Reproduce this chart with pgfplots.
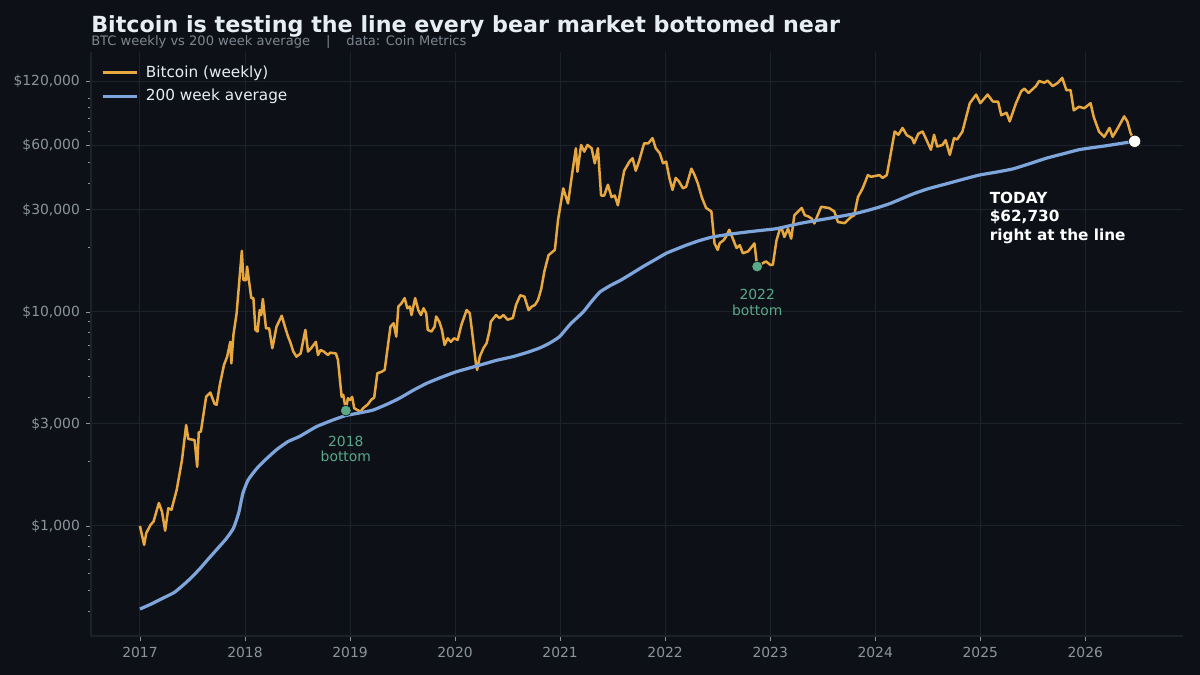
\documentclass[border=0pt]{standalone}
\usepackage{pgfplots}
\pgfplotsset{compat=1.18}
\usepackage{fontspec}
\setmainfont{DejaVu Sans}
\definecolor{bg}{HTML}{0D1117}
\definecolor{titlec}{HTML}{E6EDF3}
\definecolor{subc}{HTML}{7D8590}
\definecolor{tickc}{HTML}{8B949E}
\definecolor{gridc}{HTML}{1C222B}
\definecolor{btc}{HTML}{E8A840}
\definecolor{ma}{HTML}{7FA6DC}
\definecolor{grn}{HTML}{5AA889}
\begin{document}
\begin{tikzpicture}
\fill[bg] (0,0) rectangle (864pt,486pt);
\node[anchor=base west, inner sep=0, text=titlec, font=\fontsize{16}{19}\selectfont\bfseries] at (65.52pt,462.7pt) {Bitcoin is testing the line every bear market bottomed near};
\node[anchor=base west, inner sep=0, text=subc, font=\fontsize{9.4}{11}\selectfont] at (65.52pt,453.3pt) {BTC weekly vs 200 week average\hspace{11.5pt}|\hspace{11.5pt}data: Coin Metrics};
\begin{axis}[
  at={(65.52pt,28.08pt)}, anchor=south west,
  scale only axis, width=786.24pt, height=420.48pt,
  xmin=2016.534, xmax=2026.93,
  ymode=log, ymin=306, ymax=164000,
  axis x line*=bottom, axis y line*=left,
  axis line style={draw=gridc, line width=0.8pt, -},
  xtick={2017,2018,2019,2020,2021,2022,2023,2024,2025,2026},
  xticklabels={2017,2018,2019,2020,2021,2022,2023,2024,2025,2026},
  ytick={1000,3000,10000,30000,60000,120000},
  yticklabels={{\$1,000},{\$3,000},{\$10,000},{\$30,000},{\$60,000},{\$120,000}},
  minor ytick={400,500,600,700,800,900,2000,4000,5000,6000,7000,8000,9000,20000,40000,50000,70000,80000,90000,100000},
  grid=major,
  major grid style={draw=gridc, line width=0.7pt},
  tick align=outside,
  major tick length=3.5pt, minor tick length=2pt,
  every tick/.style={draw=tickc, line width=0.6pt},
  every minor tick/.style={draw=tickc, line width=0.5pt},
  /pgf/number format/assume math mode=true,
  ticklabel style={font=\fontsize{10}{12}\selectfont, text=tickc},
  xticklabel style={yshift=-1pt},
  yticklabel style={xshift=-1pt},
  legend cell align=left,
  legend style={at={(axis description cs:0,1)}, anchor=north west, xshift=4pt, yshift=-5.8pt,
    draw=none, fill=none, text=titlec, font=\fontsize{11}{13}\selectfont, row sep=3pt,
    nodes={inner xsep=5.5pt}},
  legend image code/.code={\draw[#1] (0pt,0pt) -- (24.5pt,0pt);},
]
\addplot[btc, line width=1.8pt, line join=round, mark=none] coordinates {
(2017.00,1000) (2017.04,815) (2017.06,925) (2017.10,1010) (2017.13,1050)
(2017.18,1280) (2017.21,1165) (2017.24,950) (2017.27,1210) (2017.30,1190)
(2017.35,1475) (2017.40,2030) (2017.44,2960) (2017.46,2550) (2017.52,2520)
(2017.545,1890) (2017.56,2740) (2017.58,2760) (2017.63,4010) (2017.67,4200)
(2017.71,3720) (2017.73,3680) (2017.76,4560) (2017.80,5650) (2017.83,6180)
(2017.86,7250) (2017.87,5750) (2017.89,7820) (2017.92,9830) (2017.97,19300)
(2017.985,14100) (2018.01,14100) (2018.02,16300) (2018.06,11600) (2018.08,11600)
(2018.10,8240) (2018.12,8100) (2018.14,10200) (2018.155,9670) (2018.17,11500)
(2018.20,8390) (2018.23,8390) (2018.26,6770) (2018.27,7140) (2018.30,8540)
(2018.35,9600) (2018.38,8540) (2018.41,7670) (2018.43,7250) (2018.46,6530)
(2018.49,6180) (2018.53,6400) (2018.54,6770) (2018.575,8240) (2018.60,6530)
(2018.63,6770) (2018.675,7250) (2018.695,6290) (2018.72,6640) (2018.75,6530)
(2018.79,6290) (2018.81,6450) (2018.865,6400) (2018.885,5970) (2018.92,4010)
(2018.935,4100) (2018.96,3500) (2018.98,3950) (2019.00,3880) (2019.02,4010)
(2019.04,3550) (2019.07,3480) (2019.10,3420) (2019.125,3550) (2019.17,3700)
(2019.20,3880) (2019.23,3980) (2019.26,5170) (2019.30,5250) (2019.33,5360)
(2019.355,6640) (2019.385,8540) (2019.415,8860) (2019.44,7670) (2019.46,10600)
(2019.49,10980) (2019.52,11600) (2019.545,10400) (2019.57,10600) (2019.585,9670)
(2019.62,11600) (2019.65,10200) (2019.675,9670) (2019.70,10400) (2019.725,9860)
(2019.74,8240) (2019.775,8100) (2019.805,8540) (2019.82,9520) (2019.85,9000)
(2019.875,8240) (2019.90,7010) (2019.93,7530) (2019.96,7250) (2019.99,7530)
(2020.025,7400) (2020.06,8700) (2020.11,10200) (2020.14,9860) (2020.16,8240)
(2020.20,5650) (2020.21,5360) (2020.235,6180) (2020.27,6770) (2020.30,7140)
(2020.33,8240) (2020.34,9000) (2020.39,9670) (2020.425,9350) (2020.46,9670)
(2020.50,9200) (2020.55,9360) (2020.58,10770) (2020.62,11960) (2020.66,11800)
(2020.70,10200) (2020.73,10600) (2020.76,10770) (2020.79,11380) (2020.82,12800)
(2020.85,15470) (2020.89,18430) (2020.95,19500) (2020.98,26900) (2021.03,37800)
(2021.075,32130) (2021.115,44400) (2021.15,58200) (2021.165,45200) (2021.20,60300)
(2021.23,56100) (2021.26,60300) (2021.30,58200) (2021.33,49500) (2021.36,58200)
(2021.39,35000) (2021.42,35000) (2021.455,39300) (2021.49,34400) (2021.52,35000)
(2021.55,31500) (2021.585,39300) (2021.61,45700) (2021.66,50400) (2021.69,52300)
(2021.72,45700) (2021.75,50400) (2021.80,61400) (2021.84,61400) (2021.88,64900)
(2021.91,58200) (2021.95,55000) (2021.98,49500) (2022.01,50400) (2022.04,42300)
(2022.07,37200) (2022.10,42300) (2022.13,40800) (2022.17,37800) (2022.20,38500)
(2022.25,46700) (2022.28,43600) (2022.31,40000) (2022.35,34200) (2022.39,30600)
(2022.44,29500) (2022.47,20900) (2022.50,19500) (2022.52,21000) (2022.555,21600)
(2022.58,22500) (2022.61,24200) (2022.63,22900) (2022.68,19900) (2022.71,20500)
(2022.74,18800) (2022.79,19200) (2022.85,20900) (2022.876,16300) (2022.92,16800)
(2022.96,17230) (2023.00,16600) (2023.025,16600) (2023.06,21600) (2023.09,24200)
(2023.11,24500) (2023.135,22400) (2023.17,24500) (2023.20,22000) (2023.23,28300)
(2023.30,30600) (2023.33,28300) (2023.36,28000) (2023.395,27300) (2023.42,25900)
(2023.485,31000) (2023.56,30600) (2023.61,29500) (2023.645,26300) (2023.71,26000)
(2023.77,27800) (2023.80,28300) (2023.835,34400) (2023.88,37800) (2023.93,43600)
(2023.96,42800) (2024.04,43600) (2024.07,42300) (2024.11,43600) (2024.14,52300)
(2024.185,69700) (2024.22,67300) (2024.26,72400) (2024.30,67000) (2024.35,64900)
(2024.37,61400) (2024.41,68000) (2024.45,69700) (2024.48,64900) (2024.53,57300)
(2024.56,67300) (2024.59,59300) (2024.64,60300) (2024.67,63500) (2024.71,54200)
(2024.75,64900) (2024.78,64000) (2024.83,69700) (2024.90,94500) (2024.96,103700)
(2025.00,94500) (2025.07,103700) (2025.12,96200) (2025.17,96000) (2025.20,83000)
(2025.25,85300) (2025.28,77700) (2025.34,94500) (2025.39,107500) (2025.42,110500)
(2025.46,105600) (2025.53,113600) (2025.56,120000) (2025.61,117800) (2025.64,120500)
(2025.69,113600) (2025.74,117800) (2025.78,124200) (2025.82,108700) (2025.86,108700)
(2025.89,87500) (2025.94,91000) (2025.99,89500) (2026.05,94500) (2026.08,81500)
(2026.13,69700) (2026.18,65800) (2026.23,72400) (2026.26,65800) (2026.31,72400)
(2026.37,82000) (2026.40,77700) (2026.43,68700) (2026.47,62730)
};
\addlegendentry{Bitcoin (weekly)}
\addplot[ma, line width=2.3pt, line join=round, mark=none, smooth, tension=0.3] coordinates {
(2017.00,409) (2017.10,430) (2017.20,455) (2017.33,490) (2017.45,550)
(2017.56,623) (2017.65,700) (2017.74,785) (2017.82,870) (2017.89,975)
(2017.94,1150) (2017.98,1420) (2018.03,1640) (2018.11,1850) (2018.20,2050)
(2018.30,2270) (2018.41,2480) (2018.52,2620) (2018.68,2910) (2018.84,3130)
(2018.96,3280) (2019.10,3380) (2019.22,3480) (2019.35,3700) (2019.47,3950)
(2019.60,4300) (2019.73,4640) (2019.87,4950) (2020.01,5250) (2020.24,5650)
(2020.40,5950) (2020.55,6180) (2020.70,6500) (2020.81,6800) (2020.90,7150)
(2020.995,7670) (2021.10,8800) (2021.22,10000) (2021.30,11200) (2021.38,12400)
(2021.48,13300) (2021.58,14100) (2021.69,15200) (2021.79,16300) (2021.90,17500)
(2022.01,18800) (2022.10,19600) (2022.20,20500) (2022.32,21500) (2022.45,22400)
(2022.62,23100) (2022.80,23700) (2022.93,24100) (2023.06,24500) (2023.28,25900)
(2023.41,26600) (2023.60,27600) (2023.82,28900) (2024.00,30500) (2024.14,32100)
(2024.36,35600) (2024.50,37600) (2024.67,39600) (2024.83,41600) (2024.99,43600)
(2025.15,45000) (2025.31,46600) (2025.47,49300) (2025.63,52300) (2025.80,55000)
(2025.94,57300) (2026.07,58600) (2026.20,59800) (2026.33,61200) (2026.47,62730)
};
\addlegendentry{200 week average}
\addplot[only marks, mark=*, mark size=3.9pt, mark options={draw=none, fill=grn}, forget plot] coordinates {(2018.96,3460) (2022.876,16300)};
\addplot[only marks, mark=*, mark size=4.4pt, mark options={draw=none, fill=white}, forget plot] coordinates {(2026.47,62730)};
\node[align=center, text=grn, font=\fontsize{10}{11.5}\selectfont, inner sep=0] at (axis cs:2018.96,2290) {2018\\bottom};
\node[align=center, text=grn, font=\fontsize{10}{11.5}\selectfont, inner sep=0] at (axis cs:2022.876,11050) {2022\\bottom};
\node[align=left, anchor=west, text=white, font=\fontsize{11}{13}\selectfont\bfseries, inner sep=0] at (axis cs:2025.088,27500) {TODAY\\\$62,730\\right at the line};
\end{axis}
\useasboundingbox (0,0) rectangle (864pt,486pt);
\end{tikzpicture}
\end{document}
